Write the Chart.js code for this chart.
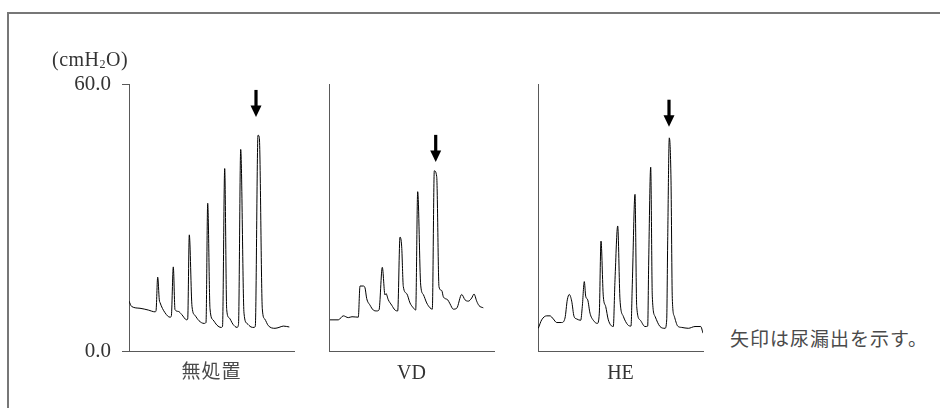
<!DOCTYPE html>
<html>
<head>
<meta charset="utf-8">
<script src="https://cdn.jsdelivr.net/npm/chart.js@4/dist/chart.umd.min.js"></script>
<style>
  html, body { margin: 0; padding: 0; background: #fff; overflow: hidden; }
  #wrap { position: relative; width: 940px; height: 408px; overflow: hidden; background: #fff; }
  #frame { position: absolute; left: 7px; top: 12px; width: 1100px; height: 500px; border-left: 2px solid #777; border-top: 2px solid #777; box-sizing: border-box; }
  canvas { position: absolute; top: 0; }
  .lbl { position: absolute; font-family: 'Liberation Serif', 'Noto Sans CJK JP', serif; font-size: 20px; color: #333; white-space: nowrap; line-height: 1; }
  .jp { font-family: 'Liberation Serif', 'Noto Sans CJK JP', serif; font-size: 19px; color: #4a4a4a; }
  sub { font-size: 12px; vertical-align: -2px; }
</style>
</head>
<body>
<div id="wrap">
  <div id="frame"></div>
  <canvas id="c1" width="300" height="408" style="left:0px;width:300px;height:408px"></canvas>
  <canvas id="c2" width="181" height="408" style="left:319px;width:181px;height:408px"></canvas>
  <canvas id="c3" width="181" height="408" style="left:528px;width:181px;height:408px"></canvas>
  <div class="lbl" id="unit" style="left:52px;top:49px;letter-spacing:0.5px;">(cmH<sub>2</sub>O)</div>
  <div class="lbl jp" id="p1" style="left:129px;width:165px;top:362px;text-align:center;letter-spacing:1px;">無処置</div>
  <div class="lbl" id="p2" style="left:329px;width:165px;top:362px;text-align:center;">VD</div>
  <div class="lbl" id="p3" style="left:538px;width:165px;top:362px;text-align:center;">HE</div>
  <div class="lbl jp" id="note" style="left:730px;top:330px;font-size:19px;letter-spacing:1px;">矢印は尿漏出を示す。</div>
</div>
<script>
// ---- data (time in arbitrary units 0..165, pressure in cmH2O) ----
const yTickValues = [0, 60];
const panelNames = ['無処置', 'VD', 'HE'];

const time1 = [0,2.7,11,19.3,26,27,28.7,30.3,31,36,41,42.3,44.3,46,49.3,52.7,57.7,58.7,60.3,63,66,70,75,77,78.7,81,84,88,92,93.5,95.7,97.7,100,104,108,109.5,111.7,115,118,122,125,126.3,129,130.3,133.3,135.7,139.3,146,150,154.3,160.3];
const pressure1 = [11.2,10.0,9.6,9.2,8.8,9.0,16.6,11.5,10.9,8.6,7.6,7.8,18.9,9.3,8.9,8.2,7.0,7.2,26.1,10.0,8.0,6.8,6.2,6.4,33.2,9.5,7.0,5.8,5.3,5.5,41.0,9.3,7.5,6.0,5.3,6.0,45.3,8.5,6.2,5.4,5.3,5.6,48.5,48.0,9.5,7.2,5.7,5.1,5.3,5.6,5.4];

const time2 = [1,9.3,14.3,19.3,23,29.3,31,34.3,36,37.7,41,44.3,47.7,50,53.3,56,57,59.3,62.7,66,68.7,71,72.7,74.3,77.7,81,84.3,86.7,88.7,91.7,94.3,97.7,101,103.3,105.3,107.7,110,112.7,114.3,116,118.7,121,124.3,127.7,132.7,136,139.3,142.7,145,147.7,150,154.3];
const pressure2 = [7.0,7.0,7.9,7.5,7.7,7.6,14.6,14.6,14.2,11.8,10.3,9.2,9.0,9.2,18.8,12.6,12.9,11.5,10.3,9.2,9.0,25.6,23.4,14.5,12.9,10.8,9.7,9.2,35.8,14.8,12.7,10.8,9.7,9.4,40.5,39.2,14.4,13.6,12.2,11.8,11.5,10.6,9.4,9.6,12.7,11.5,11.2,11.9,12.8,11.2,10.2,9.7];

const time3 = [0.3,3.7,8.7,12,15.3,18.7,23.7,27,29.3,31.3,33.7,36,38.7,42.7,44.3,46.3,47.7,49.7,52,55.3,59.3,61.3,63,65.3,67.7,70.3,75.3,77,79.7,82,85.3,89.7,93,94.3,97,98.7,102,107,109.7,110.7,112.7,114.3,117,122,127,128.7,129.7,131.3,133,134.3,136.3,139.7,143.7,150.3,157,162.7,165];
const pressure3 = [5.1,7.0,7.9,7.9,7.2,6.4,6.4,7.4,11.5,12.7,11.2,7.8,7.2,6.9,10.0,15.6,12.3,11.5,8.5,6.9,6.2,8.5,24.7,12.3,10.0,7.0,5.5,16.0,28.1,11.5,7.8,5.9,5.6,15.0,35.2,10.0,7.0,5.5,5.6,20.0,41.3,12.3,7.8,5.5,5.1,7.0,24.9,47.9,38.4,11.8,7.8,5.6,5.3,5.1,5.5,5.5,4.0];

// leak arrows: [time, pressure at arrow tip]
const arrow1 = [127, 52.6];
const arrow2 = [106.7, 42.5];
const arrow3 = [131, 50.4];

// ---- drawing ----
const AXIS = '#595959';
const serif = "'Liberation Serif', 'Times New Roman', serif";

const arrowPlugin = {
  id: 'leakArrow',
  afterDatasetsDraw(chart, args, opts) {
    const a = opts.at;
    if (!a) return;
    const xs = chart.scales.x, ys = chart.scales.y;
    const px = xs.getPixelForValue(a[0]);
    const tip = ys.getPixelForValue(a[1]);
    const ctx = chart.ctx;
    ctx.save();
    ctx.fillStyle = '#000';
    ctx.fillRect(px - 1.6, tip - 27, 3.2, 17);
    ctx.beginPath();
    ctx.moveTo(px - 5.5, tip - 11.5);
    ctx.lineTo(px + 5.5, tip - 11.5);
    ctx.lineTo(px, tip);
    ctx.closePath();
    ctx.fill();
    ctx.restore();
  }
};

function pts(t, p) { return t.map((v, i) => ({ x: v, y: p[i] })); }

function makeChart(id, t, p, arrow, first) {
  return new Chart(document.getElementById(id), {
    type: 'line',
    data: { datasets: [{ data: pts(t, p), borderColor: '#000', borderWidth: 1, pointRadius: 0, cubicInterpolationMode: 'monotone', fill: false }] },
    options: {
      responsive: false, animation: false, events: [],
      layout: { padding: { top: 84, bottom: 57, left: 0, right: 6 } },
      plugins: { legend: { display: false }, tooltip: { enabled: false }, leakArrow: { at: arrow } },
      scales: {
        x: {
          type: 'linear', min: 0, max: 165,
          ticks: { display: false },
          grid: { display: true, drawOnChartArea: false, drawTicks: false },
          border: { display: true, color: AXIS, width: 1 },
          afterFit(s) { s.height = 0; }
        },
        y: {
          min: 0, max: 60,
          afterBuildTicks(s) { s.ticks = first ? yTickValues.map(v => ({ value: v })) : []; },
          ticks: { display: first, color: '#333', font: { family: serif, size: 21 }, padding: 11, callback: v => Number(v).toFixed(1) },
          grid: { display: first, drawOnChartArea: false, drawTicks: first, tickLength: 7, color: AXIS },
          border: { display: true, color: AXIS, width: 1 },
          afterFit(s) { s.width = first ? 129 : 10; }
        }
      }
    },
    plugins: [arrowPlugin]
  });
}

makeChart('c1', time1, pressure1, arrow1, true);
makeChart('c2', time2, pressure2, arrow2, false);
makeChart('c3', time3, pressure3, arrow3, false);
</script>
</body>
</html>
